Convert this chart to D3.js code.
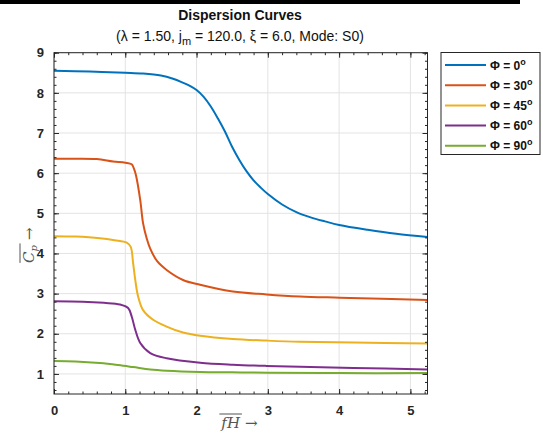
<!DOCTYPE html>
<html><head><meta charset="utf-8">
<script src="https://cdn.jsdelivr.net/npm/d3@7"></script>
<style>body{margin:0;background:#fff}svg{display:block}</style>
</head><body>
<svg id="c" width="543" height="443"></svg>
<script>
const seriesNames = ["Φ = 0", "Φ = 30", "Φ = 45", "Φ = 60", "Φ = 90"];
const seriesColors = ["#0072BD", "#D95319", "#EDB120", "#7E2F8E", "#77AC30"];
const phi0X = [0, 0.5, 1.0, 1.25, 1.5, 1.67, 1.8, 1.9, 2.0, 2.1, 2.2, 2.3, 2.4, 2.5, 2.6, 2.7, 2.8, 2.9, 3.0, 3.2, 3.4, 3.6, 3.8, 4.0, 4.4, 4.8, 5.24];
const phi0Y = [8.55, 8.53, 8.50, 8.48, 8.43, 8.35, 8.26, 8.18, 8.07, 7.90, 7.66, 7.36, 7.03, 6.65, 6.33, 6.05, 5.82, 5.64, 5.48, 5.22, 5.03, 4.90, 4.80, 4.71, 4.59, 4.49, 4.41];
const phi30X = [0, 0.3, 0.6, 0.83, 1.0, 1.09, 1.12, 1.15, 1.21, 1.25, 1.3, 1.35, 1.45, 1.58, 1.81, 2.05, 2.51, 2.98, 3.45, 4.01, 4.6, 5.24];
const phi30Y = [6.36, 6.36, 6.35, 6.29, 6.26, 6.22, 6.12, 5.95, 5.33, 4.75, 4.38, 4.12, 3.80, 3.59, 3.34, 3.22, 3.05, 2.98, 2.93, 2.90, 2.87, 2.84];
const phi45X = [0, 0.3, 0.645, 0.85, 1.02, 1.075, 1.11, 1.14, 1.18, 1.25, 1.39, 1.58, 1.81, 2.05, 2.51, 2.98, 3.45, 4.2, 5.24];
const phi45Y = [4.43, 4.42, 4.38, 4.33, 4.27, 4.17, 3.76, 3.34, 2.93, 2.59, 2.35, 2.18, 2.03, 1.95, 1.87, 1.83, 1.80, 1.78, 1.76];
const phi60X = [0, 0.4, 0.7, 0.926, 1.04, 1.09, 1.14, 1.21, 1.35, 1.58, 2.05, 2.51, 2.98, 3.45, 4.2, 5.24];
const phi60Y = [2.81, 2.80, 2.77, 2.73, 2.64, 2.43, 2.10, 1.77, 1.52, 1.39, 1.28, 1.23, 1.20, 1.18, 1.15, 1.11];
const phi90X = [0, 0.3, 0.645, 0.9, 1.11, 1.35, 1.58, 2.05, 2.5, 3.0, 4.0, 5.24];
const phi90Y = [1.32, 1.31, 1.27, 1.22, 1.17, 1.11, 1.08, 1.05, 1.04, 1.03, 1.02, 1.02];
const xTicks = [0, 1, 2, 3, 4, 5];
const yTicks = [1, 2, 3, 4, 5, 6, 7, 8, 9];
const xDomain = [0, 5.24];
const yDomain = [0.5, 9];

const allX = [phi0X, phi30X, phi45X, phi60X, phi90X];
const allY = [phi0Y, phi30Y, phi45Y, phi60Y, phi90Y];

const svg = d3.select("#c");
const L = 54, R = 427.5, T = 52.7, B = 394;
const x = d3.scaleLinear().domain(xDomain).range([L, R]);
const y = d3.scaleLinear().domain(yDomain).range([B, T]);
const font = "'Liberation Sans', Arial, sans-serif";

// top black bar
svg.append("rect").attr("x", 0).attr("y", 0).attr("width", 520).attr("height", 4).attr("fill", "#000");

// grid
const g = svg.append("g");
g.selectAll(".gx").data(xTicks).join("line")
  .attr("x1", d => x(d)).attr("x2", d => x(d)).attr("y1", T).attr("y2", B)
  .attr("stroke", "#e3e3e3").attr("stroke-width", 1);
g.selectAll(".gy").data(yTicks).join("line")
  .attr("x1", L).attr("x2", R).attr("y1", d => y(d)).attr("y2", d => y(d))
  .attr("stroke", "#e3e3e3").attr("stroke-width", 1);

// curves
const line = d3.line().x(d => x(d[0])).y(d => y(d[1])).curve(d3.curveCatmullRom.alpha(0.5));
allX.forEach((xs, i) => {
  const pts = xs.map((v, j) => [v, allY[i][j]]);
  svg.append("path").datum(pts).attr("d", line)
    .attr("fill", "none").attr("stroke", seriesColors[i]).attr("stroke-width", 2)
    .attr("stroke-linejoin", "round");
});

// axes with inward ticks
const axCol = "#262626";
const minorX = d3.range(0, 5.241, 0.2);
const minorY = d3.range(0.6, 9.001, 0.2);
function styleAxis(sel) {
  sel.select(".domain").remove();
  sel.selectAll(".tick line").attr("stroke", axCol);
  sel.selectAll("text").attr("font-family", font).attr("font-size", 13)
    .attr("font-weight", "bold").attr("fill", "#262626");
}
// bottom
svg.append("g").attr("transform", `translate(0,${B})`)
  .call(d3.axisBottom(x).tickValues(xTicks).tickFormat(d3.format("d")).tickSizeInner(-5).tickPadding(12))
  .call(styleAxis);
svg.append("g").attr("transform", `translate(0,${B})`)
  .call(d3.axisBottom(x).tickValues(minorX).tickFormat("").tickSizeInner(-2.5))
  .call(styleAxis);
// top
svg.append("g").attr("transform", `translate(0,${T})`)
  .call(d3.axisTop(x).tickValues(xTicks).tickFormat("").tickSizeInner(-5)).call(styleAxis);
svg.append("g").attr("transform", `translate(0,${T})`)
  .call(d3.axisTop(x).tickValues(minorX).tickFormat("").tickSizeInner(-2.5)).call(styleAxis);
// left
svg.append("g").attr("transform", `translate(${L},0)`)
  .call(d3.axisLeft(y).tickValues(yTicks).tickFormat(d3.format("d")).tickSizeInner(-5).tickPadding(10))
  .call(styleAxis);
svg.append("g").attr("transform", `translate(${L},0)`)
  .call(d3.axisLeft(y).tickValues(minorY).tickFormat("").tickSizeInner(-2.5)).call(styleAxis);
// right
svg.append("g").attr("transform", `translate(${R},0)`)
  .call(d3.axisRight(y).tickValues(yTicks).tickFormat("").tickSizeInner(-5)).call(styleAxis);
svg.append("g").attr("transform", `translate(${R},0)`)
  .call(d3.axisRight(y).tickValues(minorY).tickFormat("").tickSizeInner(-2.5)).call(styleAxis);

// box
svg.append("rect").attr("x", L).attr("y", T).attr("width", R - L).attr("height", B - T)
  .attr("fill", "none").attr("stroke", axCol).attr("stroke-width", 1);

// title
svg.append("text").attr("x", 240).attr("y", 20).attr("text-anchor", "middle")
  .attr("font-family", font).attr("font-size", 14).attr("font-weight", "bold").attr("fill", "#111")
  .text("Dispersion Curves");
const sub = svg.append("text").attr("x", 240).attr("y", 41).attr("text-anchor", "middle")
  .attr("font-family", font).attr("font-size", 14).attr("fill", "#111");
sub.append("tspan").text("(λ = 1.50, j");
sub.append("tspan").attr("dy", 4).attr("font-size", 11).text("m");
sub.append("tspan").attr("dy", -4).text(" = 120.0, ξ = 6.0, Mode: S0)");

// axis labels (math style)
const mathFont = "'DejaVu Serif', 'Liberation Serif', serif";
const labCol = "#555";
// x label
const xl = svg.append("g").attr("transform", "translate(236,428)");
const xlm = xl.append("text").attr("font-family", mathFont).attr("font-size", 15).attr("font-style", "italic")
  .attr("fill", labCol).attr("text-anchor", "end").attr("x", 4).text("fH");
const xbb = xlm.node().getBBox();
xl.append("line").attr("x1", xbb.x - 1).attr("x2", xbb.x + xbb.width + 1).attr("y1", -14).attr("y2", -14)
  .attr("stroke", labCol).attr("stroke-width", 1);
xl.append("text").attr("font-family", mathFont).attr("font-size", 15).attr("fill", labCol)
  .attr("x", 9).text("→");

// y label
const yl = svg.append("g").attr("transform", "translate(34,247) rotate(-90)");
const ylm = yl.append("text").attr("font-family", mathFont).attr("font-size", 15).attr("font-style", "italic")
  .attr("fill", labCol).attr("text-anchor", "end").attr("x", 2);
ylm.append("tspan").text("C");
ylm.append("tspan").attr("dy", 3).attr("font-size", 10).text("p");
const ybb = ylm.node().getBBox();
yl.append("line").attr("x1", ybb.x).attr("x2", ybb.x + ybb.width + 1).attr("y1", -14).attr("y2", -14)
  .attr("stroke", labCol).attr("stroke-width", 1);
yl.append("text").attr("font-family", mathFont).attr("font-size", 15).attr("fill", labCol)
  .attr("x", 7).text("→");

// legend
const lg = svg.append("g");
lg.append("rect").attr("x", 441).attr("y", 52.5).attr("width", 99).attr("height", 102)
  .attr("fill", "#fff").attr("stroke", axCol).attr("stroke-width", 1);
seriesNames.forEach((nm, i) => {
  const yy = 65 + i * 20.2;
  lg.append("line").attr("x1", 445).attr("x2", 486).attr("y1", yy).attr("y2", yy)
    .attr("stroke", seriesColors[i]).attr("stroke-width", 2);
  const t = lg.append("text").attr("x", 490).attr("y", yy + 4.5).attr("font-family", font)
    .attr("font-size", 12).attr("font-weight", "bold").attr("fill", "#111");
  t.append("tspan").text(nm);
  t.append("tspan").attr("dy", -5).attr("font-size", 9).text("o");
});
</script>
</body></html>
